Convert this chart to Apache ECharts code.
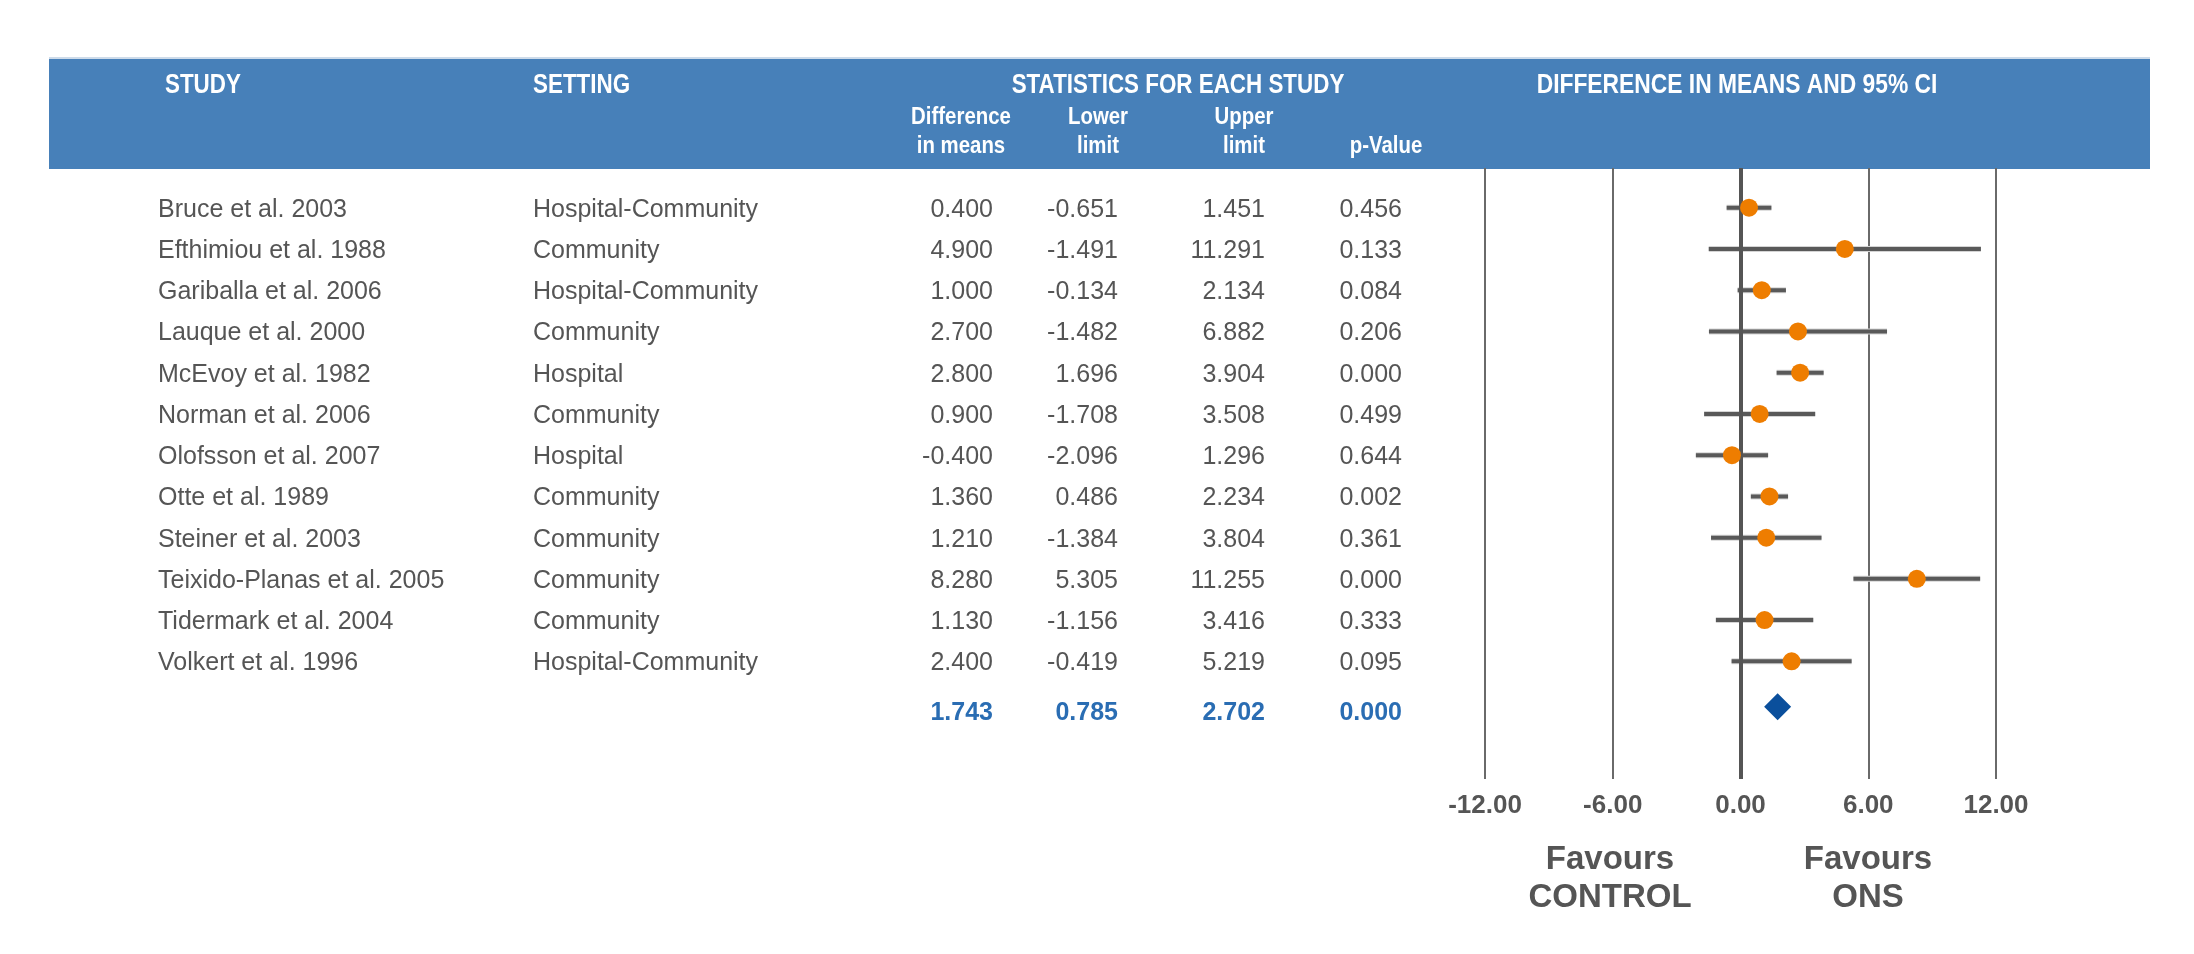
<!DOCTYPE html>
<html lang="en">
<head>
    <meta charset="utf-8">
    <title>Forest plot | ONS vs control</title>
    <script src="https://cdn.jsdelivr.net/npm/echarts@6/dist/echarts.min.js"></script>
    <style>
        html, body { margin: 0; padding: 0; background: #ffffff; }
        #divForest { width: 2194px; height: 954px; }
    </style>
</head>
<body>
<div id="divForest"></div>

<script>
    // study rows
    var studies = ['Bruce et al. 2003', 'Efthimiou et al. 1988', 'Gariballa et al. 2006', 'Lauque et al. 2000',
        'McEvoy et al. 1982', 'Norman et al. 2006', 'Olofsson et al. 2007', 'Otte et al. 1989',
        'Steiner et al. 2003', 'Teixido-Planas et al. 2005', 'Tidermark et al. 2004', 'Volkert et al. 1996'];
    var settings = ['Hospital-Community', 'Community', 'Hospital-Community', 'Community',
        'Hospital', 'Community', 'Hospital', 'Community',
        'Community', 'Community', 'Community', 'Hospital-Community'];
    var diffs = [0.400, 4.900, 1.000, 2.700, 2.800, 0.900, -0.400, 1.360, 1.210, 8.280, 1.130, 2.400];
    var lowers = [-0.651, -1.491, -0.134, -1.482, 1.696, -1.708, -2.096, 0.486, -1.384, 5.305, -1.156, -0.419];
    var uppers = [1.451, 11.291, 2.134, 6.882, 3.904, 3.508, 1.296, 2.234, 3.804, 11.255, 3.416, 5.219];
    var pValues = [0.456, 0.133, 0.084, 0.206, 0.000, 0.499, 0.644, 0.002, 0.361, 0.000, 0.333, 0.095];

    // pooled result: diff, lower, upper, p
    var summaryStats = [1.743, 0.785, 2.702, 0.000];

    var xTicks = [-12, -6, 0, 6, 12];
</script>

<script>
    var myChart = echarts.init(document.getElementById('divForest'));

    var GREY = '#555555';
    var BLUE_HEAD = '#4780b9';
    // no narrow face installed, so the header is squeezed with scaleX
    var headBold = 'bold 28px "Liberation Sans", Arial, sans-serif';
    var subBold = 'bold 24px "Liberation Sans", Arial, sans-serif';
    var rowFont = '25px "Liberation Sans", Arial, sans-serif';
    var sumFont = 'bold 25px "Liberation Sans", Arial, sans-serif';
    var favFont = 'bold 33px "Liberation Sans", Arial, sans-serif';

    // column anchors of the table (x in px)
    var colStudy = 158, colSetting = 533;
    var colNums = [993, 1118, 1265, 1402];

    var summaryRow = studies.length + 0.1;

    var rowData = studies.map(function (s, i) { return [0, i]; });
    var ciData = studies.map(function (s, i) { return [lowers[i], uppers[i], i]; });
    var pointData = studies.map(function (s, i) { return [diffs[i], i]; });

    function fmt(v) { return v.toFixed(3); }

    function headText(txt, x, y, font, sx, align) {
        return {
            type: 'text', x: x, y: y, scaleX: sx,
            style: { text: txt, fill: '#ffffff', font: font, align: align || 'center', verticalAlign: 'middle' }
        };
    }

    function favText(txt, x, y) {
        return {
            type: 'text', x: x, y: y,
            style: { text: txt, fill: GREY, font: favFont, align: 'center', verticalAlign: 'middle' }
        };
    }

    option = {
        animation: false,
        backgroundColor: '#ffffff',
        grid: {
            left: 1485,
            right: 198,
            top: 168,
            bottom: 175
        },
        xAxis: {
            type: 'value',
            min: xTicks[0],
            max: xTicks[xTicks.length - 1],
            interval: 6,
            axisLine: { show: false },
            axisTick: { show: false },
            axisLabel: {
                margin: 14,
                color: GREY,
                fontSize: 26,
                fontWeight: 'bold',
                fontFamily: 'Liberation Sans',
                formatter: function (v) { return v.toFixed(2); }
            },
            splitLine: {
                show: true,
                lineStyle: { color: '#6a6a6a', width: 2 }
            }
        },
        yAxis: {
            type: 'value',
            inverse: true,
            min: -0.963,
            max: 13.853,
            show: false
        },
        graphic: [
            { type: 'rect', shape: { x: 49, y: 57, width: 2101, height: 3 }, style: { fill: '#cddbea' } },
            { type: 'rect', shape: { x: 49, y: 59, width: 2101, height: 110 }, style: { fill: BLUE_HEAD } },
            headText('STUDY', 165, 85, headBold, 0.8, 'left'),
            headText('SETTING', 533, 85, headBold, 0.8, 'left'),
            headText('STATISTICS FOR EACH STUDY', 1178, 85, headBold, 0.8),
            headText('DIFFERENCE IN MEANS AND 95% CI', 1737, 85, headBold, 0.815),
            headText('Difference', 961, 117, subBold, 0.85),
            headText('in means', 961, 146, subBold, 0.85),
            headText('Lower', 1098, 117, subBold, 0.85),
            headText('limit', 1098, 146, subBold, 0.85),
            headText('Upper', 1244, 117, subBold, 0.85),
            headText('limit', 1244, 146, subBold, 0.85),
            headText('p-Value', 1386, 146, subBold, 0.85),
            // favours captions under the axis
            favText('Favours', 1610, 860),
            favText('CONTROL', 1610, 898),
            favText('Favours', 1868, 860),
            favText('ONS', 1868, 898)
        ],
        series: [
            {
                // table text per study row, y comes from the axis
                name: 'table',
                type: 'custom',
                silent: true,
                data: rowData,
                renderItem: function (params, api) {
                    var i = api.value(1);
                    var y = api.coord([0, i])[1] + 2;
                    var nums = [diffs[i], lowers[i], uppers[i], pValues[i]];
                    var children = [
                        { type: 'text', style: { text: studies[i], x: colStudy, y: y, fill: GREY, font: rowFont, verticalAlign: 'middle' } },
                        { type: 'text', style: { text: settings[i], x: colSetting, y: y, fill: GREY, font: rowFont, verticalAlign: 'middle' } }
                    ];
                    nums.forEach(function (n, k) {
                        children.push({ type: 'text', style: { text: fmt(n), x: colNums[k], y: y, fill: GREY, font: rowFont, align: 'right', verticalAlign: 'middle' } });
                    });
                    return { type: 'group', children: children };
                }
            },
            {
                name: 'summaryTable',
                type: 'custom',
                silent: true,
                data: [[0, summaryRow]],
                renderItem: function (params, api) {
                    var y = api.coord([0, api.value(1)])[1] + 6;
                    return {
                        type: 'group',
                        children: summaryStats.map(function (n, k) {
                            return { type: 'text', style: { text: fmt(n), x: colNums[k], y: y, fill: '#2a6db3', font: sumFont, align: 'right', verticalAlign: 'middle' } };
                        })
                    };
                }
            },
            {
                // confidence intervals
                name: 'ci',
                type: 'custom',
                silent: true,
                data: ciData,
                encode: { x: [0, 1], y: 2 },
                renderItem: function (params, api) {
                    var p1 = api.coord([api.value(0), api.value(2)]);
                    var p2 = api.coord([api.value(1), api.value(2)]);
                    return {
                        type: 'group',
                        children: [
                            { type: 'line', shape: { x1: p1[0], y1: p1[1], x2: p2[0], y2: p2[1] }, style: { stroke: '#d4d4d4', lineWidth: 6 } },
                            { type: 'line', shape: { x1: p1[0], y1: p1[1], x2: p2[0], y2: p2[1] }, style: { stroke: '#595959', lineWidth: 4 } }
                        ]
                    };
                },
                markLine: {
                    silent: true,
                    symbol: 'none',
                    label: { show: false },
                    lineStyle: { color: '#555555', width: 4, type: 'solid' },
                    data: [{ xAxis: 0 }]
                },
                z: 3
            },
            {
                name: 'effect',
                type: 'scatter',
                data: pointData,
                symbol: 'circle',
                symbolSize: 18,
                itemStyle: { color: '#ee7d00', opacity: 1 },
                z: 5
            },
            {
                name: 'pooled',
                type: 'scatter',
                data: [[summaryStats[0], summaryRow]],
                symbol: 'diamond',
                symbolSize: [27, 27],
                itemStyle: { color: '#0a4f9c', opacity: 1 },
                z: 5
            }
        ]
    };

    myChart.setOption(option);
</script>

</body>
</html>
